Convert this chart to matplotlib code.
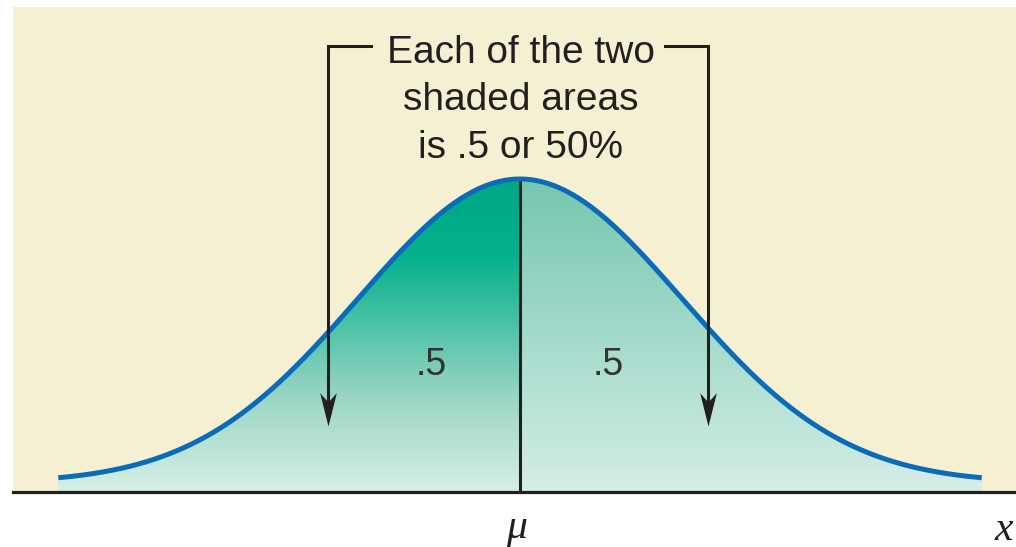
import numpy as np
import matplotlib
matplotlib.use("Agg")
import matplotlib.pyplot as plt
from matplotlib.patches import Polygon
from matplotlib.path import Path
from matplotlib.colors import LinearSegmentedColormap

# Normal distribution parameters (standard units)
mu = 0.0
sigma = 1.0
z_extent = 2.85            # curve drawn out to +/- this many sigmas

callout_lines = ["Each of the two", "shaded areas", "is .5 or 50%"]
area_labels = [".5", ".5"]
mean_label = "\u03bc"
var_label = "x"

# vertical colour ramps (0 = baseline, 1 = peak height)
left_stops = [(0.0, "#d8eee6"), (0.096, "#c3e7dc"), (0.294, "#9dd6c5"),
              (0.645, "#27b999"), (0.757, "#05b08f"), (1.0, "#00a884")]
right_stops = [(0.0, "#d8eee6"), (0.096, "#cbe9e1"), (0.246, "#bce5d9"),
               (0.693, "#91d2c0"), (0.933, "#7cc9b2"), (1.0, "#76c6ae")]

CREAM = "#f6f0d3"
INK = "#231f20"
BLUE = "#0a6cb8"

W, H = 1016, 547
fig = plt.figure(figsize=(W / 100, H / 100), dpi=100)
fig.patch.set_facecolor("white")
ax = fig.add_axes([13 / W, 55 / H, 1003 / W, 485 / H])
ax.set_facecolor(CREAM)
for s in ax.spines.values():
    s.set_visible(False)
ax.set_xticks([])
ax.set_yticks([])

# layout scale: pixels per sigma horizontally, pixels per density unit vertically
PX_X, PX_Y = 162.0, 762.0
X0, Y0 = 520.0, 492.0
ymin = -9 / PX_Y


def gx(p):
    return (p - X0) / PX_X


def gy(p):
    return ymin + (Y0 - p) / PX_Y


ax.set_xlim(gx(13), gx(1016))
ax.set_ylim(ymin, gy(7))

x = np.linspace(mu - z_extent * sigma, mu + z_extent * sigma, 801)
pdf = np.exp(-0.5 * ((x - mu) / sigma) ** 2) / (sigma * np.sqrt(2 * np.pi))
peak = 1 / (sigma * np.sqrt(2 * np.pi))


def shade(mask, stops, x_lo, x_hi):
    xs, ys = x[mask], pdf[mask]
    verts = [(xs[0], ymin)] + list(zip(xs, ys)) + [(xs[-1], ymin)]
    poly = Polygon(verts, closed=True, facecolor="none", edgecolor="none",
                   transform=ax.transData)
    ax.add_patch(poly)
    cmap = LinearSegmentedColormap.from_list("ramp", stops)
    grad = cmap(np.linspace(0, 1, 512))[:, None, :]
    im = ax.imshow(grad, extent=[x_lo, x_hi, ymin, peak], origin="lower",
                   aspect="auto", interpolation="bilinear", zorder=1)
    im.set_clip_path(poly)


shade(x <= mu, left_stops, x[0], mu)
shade(x >= mu, right_stops, mu, x[-1])

# the density curve
ax.plot(x, pdf, color=BLUE, lw=3.6, solid_capstyle="butt", zorder=4)

# mean line and baseline
ax.plot([mu, mu], [ymin, peak], color=INK, lw=2.2, zorder=3)
ax.axhline(ymin, color=INK, lw=2.3, clip_on=False, zorder=5)

# callout brackets with barbed arrowheads
L, w = 24.0, 6.0
head = Path([(0, 0), (-w, L), (0, 0.72 * L), (w, L), (0, 0)],
            [Path.MOVETO, Path.LINETO, Path.LINETO, Path.LINETO, Path.CLOSEPOLY])
y_br = gy(46)
tip = gy(426)
for xa, xb in [(gx(328), gx(371)), (gx(708), gx(665))]:
    ax.plot([xb, xa, xa], [y_br, y_br, gy(405)], color=INK, lw=2.2,
            solid_joinstyle="miter", zorder=6)
    ax.plot([xa], [tip], marker=head, markersize=2 * L, color=INK,
            markeredgewidth=0, zorder=6)

for line, base in zip(callout_lines, [63, 110, 158]):
    ax.text(gx(521), gy(base), line, ha="center", va="baseline",
            fontsize=28, family="Liberation Sans", color=INK, zorder=7)

for lab, cx in zip(area_labels, [gx(431), gx(608)]):
    ax.text(cx, gy(375), lab, ha="center", va="baseline", fontsize=27,
            family="Liberation Sans", color="#333333", zorder=7)

ax.text(gx(516), gy(538), mean_label, ha="center", va="baseline",
        fontsize=30, family="Liberation Serif", style="italic", color=INK,
        clip_on=False)
ax.text(gx(1013), gy(540), var_label, ha="right", va="baseline",
        fontsize=30, family="Liberation Serif", style="italic", color=INK,
        clip_on=False)

fig.savefig("out.png", dpi=100, facecolor="white")
